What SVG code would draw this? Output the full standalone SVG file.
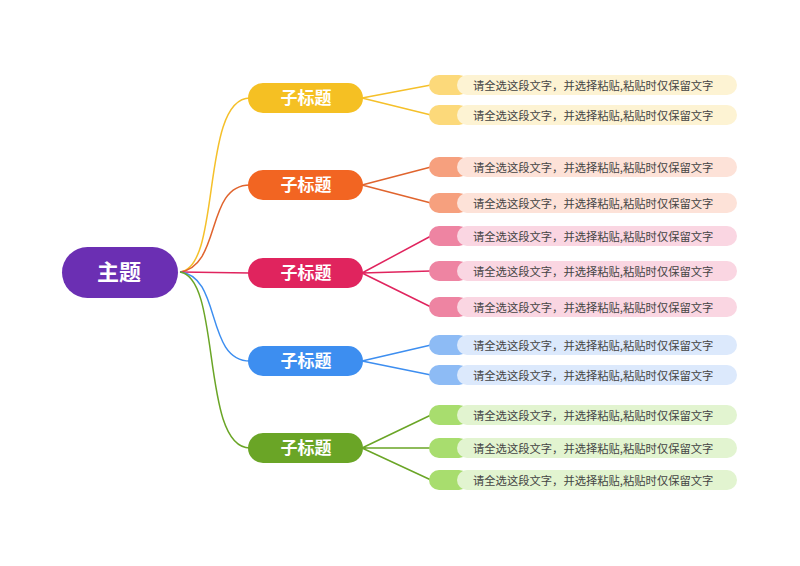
<svg xmlns="http://www.w3.org/2000/svg" width="800" height="566" viewBox="0 0 800 566">
<style>
.t{font-family:"Noto Sans CJK SC","Noto Sans",sans-serif}
.main{font-size:22px;font-weight:bold;fill:#fff}
.sub{font-size:17px;font-weight:bold;fill:#fff}
.leaf{font-size:11.3px;fill:#444}
.c{fill:none;stroke-width:1.5}
</style>
<rect width="800" height="566" fill="#fff"/>
<g id="connectors">
<path class="c" stroke="#f5c02a" d="M180,272 C222,268 200,98 250,98"/>
<path class="c" stroke="#e0642e" d="M180,272 C222,266 205,185 250,185"/>
<path class="c" stroke="#e0245e" d="M180,272 L250,273"/>
<path class="c" stroke="#3d8ef0" d="M180,272 C222,276 205,361 250,361"/>
<path class="c" stroke="#6aa526" d="M180,272 C222,278 200,448 250,448"/>
<path class="c" stroke="#f5c02a" d="M362,98 L431,85 M362,98 L431,115"/>
<path class="c" stroke="#e0642e" d="M362,185 L431,167 M362,185 L431,203"/>
<path class="c" stroke="#e0245e" d="M362,273 L431,236 M362,273 L431,271 M362,273 L431,307"/>
<path class="c" stroke="#3d8ef0" d="M362,361 L431,345 M362,361 L431,375"/>
<path class="c" stroke="#6aa526" d="M362,448 L431,415 M362,448 L431,448 M362,448 L431,480"/>
</g>
<g id="main"><rect x="62" y="247" width="116" height="51" rx="25.5" fill="#6b2fb3"/><text class="t main" x="119" y="280" text-anchor="middle">主题</text></g>
<g id="sub1"><rect x="248" y="83" width="115" height="30" rx="15" fill="#f5c023"/><text class="t sub" x="306" y="104" text-anchor="middle">子标题</text></g>
<g id="sub2"><rect x="248" y="170" width="115" height="30" rx="15" fill="#f26522"/><text class="t sub" x="306" y="191" text-anchor="middle">子标题</text></g>
<g id="sub3"><rect x="248" y="258" width="115" height="30" rx="15" fill="#e0245e"/><text class="t sub" x="306" y="279" text-anchor="middle">子标题</text></g>
<g id="sub4"><rect x="248" y="346" width="115" height="30" rx="15" fill="#3d8ef0"/><text class="t sub" x="306" y="367" text-anchor="middle">子标题</text></g>
<g id="sub5"><rect x="248" y="433" width="115" height="30" rx="15" fill="#6aa526"/><text class="t sub" x="306" y="454" text-anchor="middle">子标题</text></g>
<g id="leaf1"><rect x="429" y="75" width="40" height="20" rx="10" fill="#fcd97a"/><rect x="457" y="75" width="280" height="20" rx="10" fill="#fdf3d3"/><text class="t leaf" x="473" y="89.5">请全选这段文字，并选择粘贴,粘贴时仅保留文字</text></g>
<g id="leaf2"><rect x="429" y="105" width="40" height="20" rx="10" fill="#fcd97a"/><rect x="457" y="105" width="280" height="20" rx="10" fill="#fdf3d3"/><text class="t leaf" x="473" y="119.5">请全选这段文字，并选择粘贴,粘贴时仅保留文字</text></g>
<g id="leaf3"><rect x="429" y="157" width="40" height="20" rx="10" fill="#f6a07e"/><rect x="457" y="157" width="280" height="20" rx="10" fill="#fde2d8"/><text class="t leaf" x="473" y="171.5">请全选这段文字，并选择粘贴,粘贴时仅保留文字</text></g>
<g id="leaf4"><rect x="429" y="193" width="40" height="20" rx="10" fill="#f6a07e"/><rect x="457" y="193" width="280" height="20" rx="10" fill="#fde2d8"/><text class="t leaf" x="473" y="207.5">请全选这段文字，并选择粘贴,粘贴时仅保留文字</text></g>
<g id="leaf5"><rect x="429" y="226" width="40" height="20" rx="10" fill="#ee84a2"/><rect x="457" y="226" width="280" height="20" rx="10" fill="#fad6e2"/><text class="t leaf" x="473" y="240.5">请全选这段文字，并选择粘贴,粘贴时仅保留文字</text></g>
<g id="leaf6"><rect x="429" y="261" width="40" height="20" rx="10" fill="#ee84a2"/><rect x="457" y="261" width="280" height="20" rx="10" fill="#fad6e2"/><text class="t leaf" x="473" y="275.5">请全选这段文字，并选择粘贴,粘贴时仅保留文字</text></g>
<g id="leaf7"><rect x="429" y="297" width="40" height="20" rx="10" fill="#ee84a2"/><rect x="457" y="297" width="280" height="20" rx="10" fill="#fad6e2"/><text class="t leaf" x="473" y="311.5">请全选这段文字，并选择粘贴,粘贴时仅保留文字</text></g>
<g id="leaf8"><rect x="429" y="335" width="40" height="20" rx="10" fill="#8dbbf5"/><rect x="457" y="335" width="280" height="20" rx="10" fill="#dce9fc"/><text class="t leaf" x="473" y="349.5">请全选这段文字，并选择粘贴,粘贴时仅保留文字</text></g>
<g id="leaf9"><rect x="429" y="365" width="40" height="20" rx="10" fill="#8dbbf5"/><rect x="457" y="365" width="280" height="20" rx="10" fill="#dce9fc"/><text class="t leaf" x="473" y="379.5">请全选这段文字，并选择粘贴,粘贴时仅保留文字</text></g>
<g id="leaf10"><rect x="429" y="405" width="40" height="20" rx="10" fill="#a8dd6e"/><rect x="457" y="405" width="280" height="20" rx="10" fill="#e2f4d0"/><text class="t leaf" x="473" y="419.5">请全选这段文字，并选择粘贴,粘贴时仅保留文字</text></g>
<g id="leaf11"><rect x="429" y="438" width="40" height="20" rx="10" fill="#a8dd6e"/><rect x="457" y="438" width="280" height="20" rx="10" fill="#e2f4d0"/><text class="t leaf" x="473" y="452.5">请全选这段文字，并选择粘贴,粘贴时仅保留文字</text></g>
<g id="leaf12"><rect x="429" y="470" width="40" height="20" rx="10" fill="#a8dd6e"/><rect x="457" y="470" width="280" height="20" rx="10" fill="#e2f4d0"/><text class="t leaf" x="473" y="484.5">请全选这段文字，并选择粘贴,粘贴时仅保留文字</text></g>
</svg>
